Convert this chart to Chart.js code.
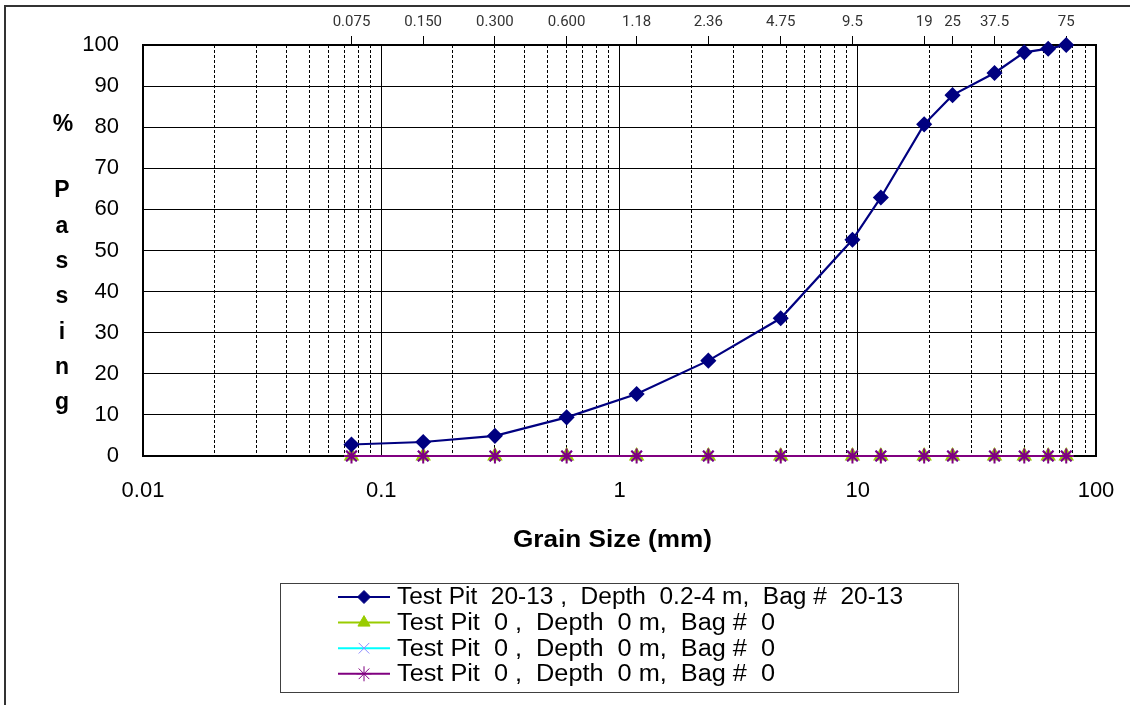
<!DOCTYPE html>
<html>
<head>
<meta charset="utf-8">
<script src="https://cdn.jsdelivr.net/npm/chart.js@4/dist/chart.umd.min.js"></script>
<style>
    html, body { margin: 0; padding: 0; background: #fff; }
    #wrap { width: 1130px; height: 705px; position: relative; }
</style>
</head>
<body>
<div id="wrap"><canvas id="chart-grain" width="1130" height="705"></canvas></div>
<script>
// sieve sizes (mm) and % passing
const sieveSizes = [0.075, 0.15, 0.3, 0.6, 1.18, 2.36, 4.75, 9.5, 12.5, 19, 25, 37.5, 50, 63, 75];
const passing = [2.8, 3.4, 4.9, 9.4, 15.1, 23.2, 33.5, 52.6, 62.9, 80.7, 87.8, 93.2, 98.2, 99.1, 100];
const emptyPassing = [0, 0, 0, 0, 0, 0, 0, 0, 0, 0, 0, 0, 0, 0, 0];

// top axis labelled sieves
const topTicks = [0.075, 0.15, 0.3, 0.6, 1.18, 2.36, 4.75, 9.5, 19, 25, 37.5, 75];
const topLabels = ['0.075', '0.150', '0.300', '0.600', '1.18', '2.36', '4.75', '9.5', '19', '25', '37.5', '75'];

// bottom axis
const decadeTicks = [0.01, 0.1, 1, 10, 100];
const decadeLabels = ['0.01', '0.1', '1', '10', '100'];

const seriesLabels = [
    'Test Pit  20-13 ,  Depth  0.2-4 m,  Bag #  20-13',
    'Test Pit  0 ,  Depth  0 m,  Bag #  0',
    'Test Pit  0 ,  Depth  0 m,  Bag #  0',
    'Test Pit  0 ,  Depth  0 m,  Bag #  0'
];

const FONT = "'Liberation Sans', Arial, sans-serif";

function toPoints(xs, ys) {
    return xs.map((x, i) => ({ x: x, y: ys[i] }));
}

function isDecade(v) {
    const l = Math.log10(v);
    return Math.abs(l - Math.round(l)) < 1e-9;
}

function minorTicks() {
    const ticks = [];
    for (let e = -2; e <= 1; e++) {
        for (let m = 1; m <= 9; m++) {
            ticks.push({ value: m * Math.pow(10, e) });
        }
    }
    ticks.push({ value: 100 });
    return ticks;
}

function fitText(ctx, text, x, y, width) {
    const w = ctx.measureText(text).width;
    ctx.save();
    ctx.translate(x, y);
    ctx.scale(width / w, 1);
    ctx.fillText(text, 0, 0);
    ctx.restore();
}

const framePlugin = {
    id: 'frame',
    beforeDatasetsDraw(chart) {
        const { ctx, chartArea: a } = chart;
        ctx.save();
        ctx.strokeStyle = '#000';
        ctx.lineWidth = 2;
        ctx.strokeRect(a.left, a.top, a.right - a.left, a.bottom - a.top);
        ctx.restore();
    },
    afterDraw(chart) {
        const ctx = chart.ctx;
        ctx.save();
        // outer border (top and left only)
        ctx.strokeStyle = '#333';
        ctx.lineWidth = 2;
        ctx.beginPath();
        ctx.moveTo(5, 705);
        ctx.lineTo(5, 6);
        ctx.lineTo(1130, 6);
        ctx.stroke();

        // y title, stacked letters
        ctx.fillStyle = '#000';
        ctx.font = 'bold 23px ' + FONT;
        ctx.textAlign = 'center';
        ctx.textBaseline = 'middle';
        ctx.fillText('%', 63, 125);
        'Passing'.split('').forEach((ch, i) => {
            ctx.fillText(ch, 62, 191 + i * 35.3);
        });

        // x title
        ctx.textAlign = 'left';
        ctx.font = 'bold 23px ' + FONT;
        fitText(ctx, 'Grain Size (mm)', 513, 541, 199);

        // legend
        ctx.strokeStyle = '#404040';
        ctx.lineWidth = 1;
        ctx.strokeRect(280.5, 583.5, 678, 109);
        ctx.font = '23px ' + FONT;
        chart.data.datasets.forEach((ds, i) => {
            const y = 597 + i * 25.6;
            ctx.strokeStyle = ds.borderColor;
            ctx.lineWidth = 2;
            ctx.beginPath();
            ctx.moveTo(338, y);
            ctx.lineTo(390, y);
            ctx.stroke();
            ctx.fillStyle = ds.pointBackgroundColor;
            ctx.strokeStyle = ds.pointBorderColor;
            ctx.lineWidth = 1;
            Chart.helpers.drawPoint(ctx, {
                pointStyle: ds.pointStyle,
                rotation: 0,
                radius: ds.pointRadius,
                borderWidth: 1
            }, 364, y);
            ctx.fillStyle = '#000';
            fitText(ctx, ds.label, 397, y + 1, i === 0 ? 506 : 378);
        });
        ctx.restore();
    }
};

const ctx = document.getElementById('chart-grain');

new Chart(ctx, {
    type: 'line',
    data: {
        datasets: [{
            label: seriesLabels[0],
            data: toPoints(sieveSizes, passing),
            borderColor: '#000080',
            borderWidth: 2.2,
            pointStyle: 'rectRot',
            pointRadius: 6.5,
            pointBackgroundColor: '#000080',
            pointBorderColor: '#000080',
            tension: 0,
            clip: false,
            order: 0
        }, {
            label: seriesLabels[1],
            data: toPoints(sieveSizes, emptyPassing),
            borderColor: '#99CC00',
            borderWidth: 2,
            pointStyle: 'triangle',
            pointRadius: 7,
            pointBackgroundColor: '#99CC00',
            pointBorderColor: '#99CC00',
            clip: false,
            order: 3
        }, {
            label: seriesLabels[2],
            data: toPoints(sieveSizes, emptyPassing),
            borderColor: '#00FFFF',
            borderWidth: 2,
            pointStyle: 'crossRot',
            pointRadius: 7.5,
            pointBackgroundColor: '#00FFFF',
            pointBorderColor: '#8C8CFF',
            clip: false,
            order: 2
        }, {
            label: seriesLabels[3],
            data: toPoints(sieveSizes, emptyPassing),
            borderColor: '#800080',
            borderWidth: 2,
            pointStyle: 'star',
            pointRadius: 7.5,
            pointBackgroundColor: '#800080',
            pointBorderColor: '#800080',
            clip: false,
            order: 1
        }]
    },
    options: {
        responsive: false,
        animation: false,
        events: [],
        layout: { padding: { left: 0, right: 34, top: 0, bottom: 0 } },
        plugins: {
            legend: { display: false },
            tooltip: { enabled: false }
        },
        scales: {
            x: {
                type: 'logarithmic',
                position: 'bottom',
                min: 0.01,
                max: 100,
                afterBuildTicks: function(scale) {
                    scale.ticks = minorTicks();
                },
                afterFit: function(scale) {
                    scale.height = 249;
                    scale.paddingLeft = 0;
                    scale.paddingRight = 0;
                },
                border: {
                    display: false,
                    dash: function(c) {
                        return (c.tick && !isDecade(c.tick.value)) ? [3, 2] : [];
                    }
                },
                grid: {
                    color: '#000',
                    lineWidth: 1,
                    drawTicks: false
                },
                ticks: {
                    autoSkip: false,
                    maxRotation: 0,
                    padding: 22,
                    color: '#000',
                    font: { family: FONT, size: 22 },
                    callback: function(value) {
                        const i = decadeTicks.findIndex(d => Math.abs(d - value) < 1e-9);
                        return i >= 0 ? decadeLabels[i] : '';
                    }
                }
            },
            x2: {
                type: 'logarithmic',
                position: 'top',
                min: 0.01,
                max: 100,
                afterBuildTicks: function(scale) {
                    scale.ticks = topTicks.map(v => ({ value: v }));
                },
                afterFit: function(scale) {
                    scale.height = 45;
                    scale.paddingLeft = 0;
                    scale.paddingRight = 0;
                },
                border: { display: false },
                grid: {
                    drawOnChartArea: false,
                    drawTicks: true,
                    tickLength: 9,
                    tickColor: '#000',
                    tickWidth: 1
                },
                ticks: {
                    autoSkip: false,
                    maxRotation: 0,
                    padding: 5,
                    color: '#333',
                    font: { family: "Roboto, " + FONT, size: 15 },
                    callback: function(value) {
                        const i = topTicks.findIndex(t => Math.abs(t - value) < 1e-9);
                        return i >= 0 ? topLabels[i] : '';
                    }
                }
            },
            y: {
                min: 0,
                max: 100,
                afterFit: function(scale) {
                    scale.width = 143;
                },
                border: { display: false },
                grid: {
                    color: '#000',
                    lineWidth: 1,
                    drawTicks: false
                },
                ticks: {
                    stepSize: 10,
                    padding: 24,
                    color: '#000',
                    font: { family: FONT, size: 22 }
                }
            }
        }
    },
    plugins: [framePlugin]
});
</script>
</body>
</html>
